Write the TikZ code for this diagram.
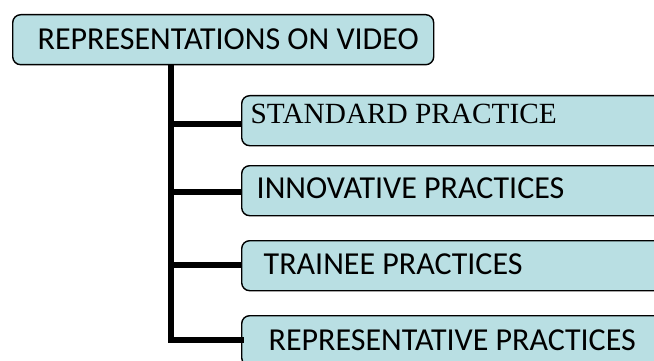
\documentclass[tikz,border=0pt]{standalone}
\usepackage{fontspec}
\setmainfont{Carlito}
\newfontfamily\serifbox{Liberation Serif}
\definecolor{boxfill}{RGB}{185,223,227}
\tikzset{
  box/.style={draw=black, line width=1.4pt, fill=boxfill, rounded corners=8pt,
    inner sep=0pt, minimum height=50pt, anchor=north west, font=\fontsize{32}{32}\selectfont},
  trunkline/.style={line width=6pt, black},
}
\begin{document}
\begin{tikzpicture}[x=1pt,y=-1pt]
\useasboundingbox (0,0) rectangle (654,361);
\clip (0,0) rectangle (654,361);
\node[box, text height=20.5pt, text depth=1.5pt] (root) at (12,14)
  {\makebox[421pt][l]{\hspace*{25pt}REPRESENTATIONS ON VIDEO}};
\node[box, text height=19.4pt, text depth=14.6pt, font=\serifbox\fontsize{29.3}{29.3}\selectfont] (s1) at (241,95)
  {\makebox[450pt][l]{\hspace*{9pt}STANDARD PRACTICE}};
\node[box, text height=20.5pt, text depth=5.5pt] (s2) at (241,165)
  {\makebox[450pt][l]{\hspace*{15pt}INNOVATIVE PRACTICES}};
\node[box, text height=20.5pt, text depth=3.5pt] (s3) at (241,240)
  {\makebox[450pt][l]{\hspace*{22pt}TRAINEE PRACTICES}};
\node[box, text height=20.5pt, text depth=0pt] (s4) at (241,315)
  {\makebox[450pt][l]{\hspace*{27pt}REPRESENTATIVE PRACTICES}};
\coordinate (trunktop) at (170.5,0 |- root.south);
\coordinate (trunkbot) at (170.5,340);
\draw[trunkline] (trunktop) -- (trunkbot |- 0,343);
\draw[trunkline] (trunktop |- 0,124.5) -- (s1.west |- 0,124.5);
\draw[trunkline] (trunktop |- 0,192) -- (s2.west |- 0,192);
\draw[trunkline] (trunktop |- 0,265) -- (s3.west |- 0,265);
\draw[trunkline, line cap=rect] (trunkbot) -- (s4.west |- trunkbot);
\end{tikzpicture}
\end{document}
